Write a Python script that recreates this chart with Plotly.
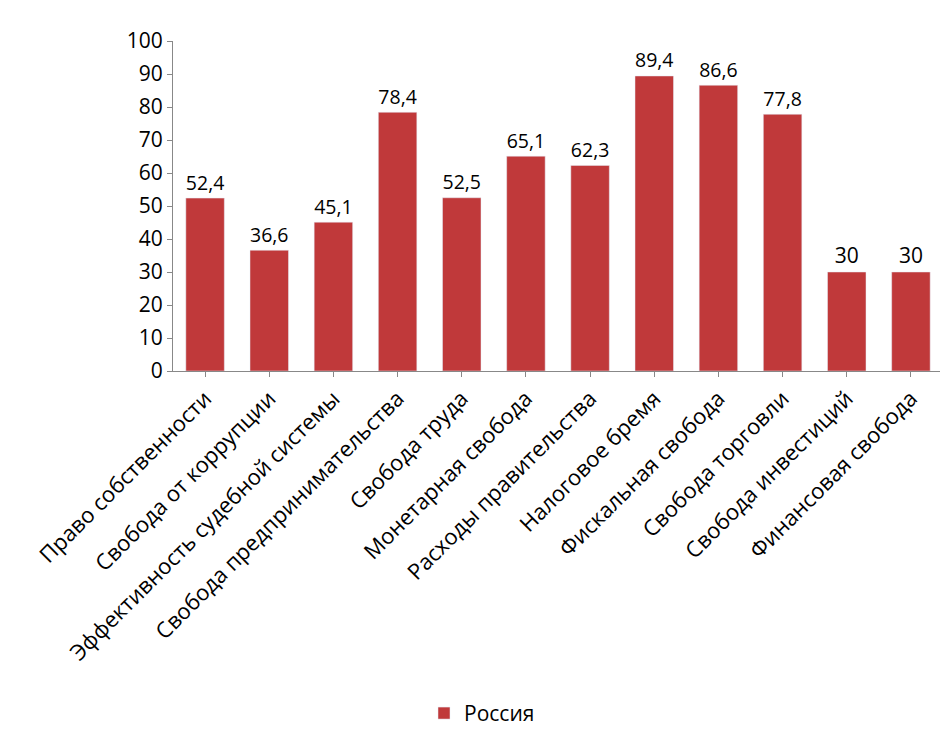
import plotly.graph_objects as go

categories = ["Право собственности", "Свобода от коррупции", "Эффективность судебной системы",
              "Свобода предпринимательства", "Свобода труда", "Монетарная свобода",
              "Расходы правительства", "Налоговое бремя", "Фискальная свобода",
              "Свобода торговли", "Свобода инвестиций", "Финансовая свобода"]
values = [52.4, 36.6, 45.1, 78.4, 52.5, 65.1, 62.3, 89.4, 86.6, 77.8, 30, 30]
labels = [str(v).replace(".", ",") for v in values]

fig = go.Figure(go.Bar(
    x=categories, y=values, name="Россия", text=labels, textposition="outside",
    textfont=dict(size=21, color="black"), cliponaxis=False,
    marker=dict(color="#c0393a"), width=0.6, showlegend=True))

fig.update_layout(
    width=948, height=731, plot_bgcolor="white", paper_bgcolor="white",
    font=dict(family="Open Sans, Liberation Sans, Arial", size=21, color="black"),
    margin=dict(l=165, r=13, t=33, b=368, autoexpand=False),
    bargap=0.4,
    legend=dict(orientation="h", x=0.5, xanchor="center", xref="container",
                y=0.035, yanchor="middle", yref="container", font=dict(size=21)),
    xaxis=dict(tickangle=-45, showline=True, linecolor="#888", ticks="outside",
               tickcolor="#888", ticklen=5, tickfont=dict(size=22)),
    yaxis=dict(range=[0, 100], dtick=10, showgrid=False, showline=True, linecolor="#888",
               ticks="outside", tickcolor="#888", ticklen=5, tickfont=dict(size=21),
               zeroline=False),
)
fig.write_html("out.html")
